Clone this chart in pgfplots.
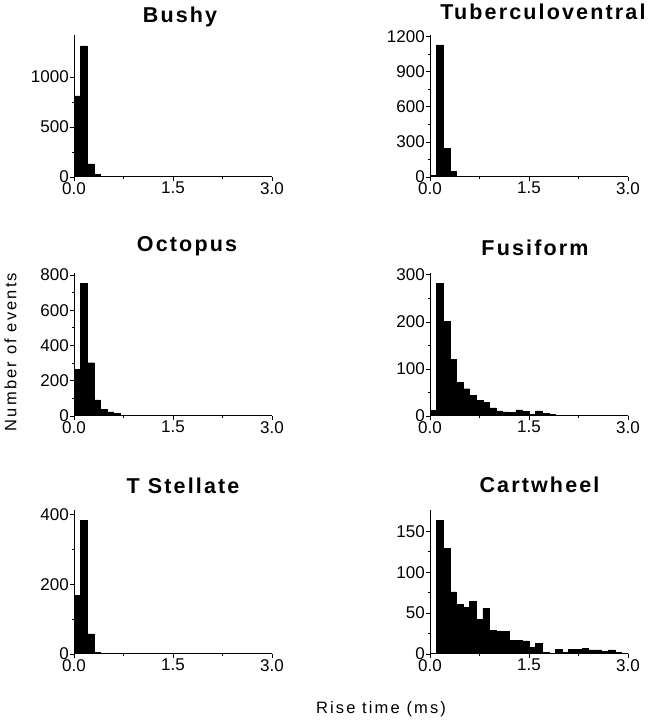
\documentclass[border=0pt]{standalone}
\usepackage{fontspec}
\setmainfont{Liberation Sans}
\newfontfamily\spacedfont{Liberation Sans}[LetterSpace=13]
\newfontfamily\titlefont{Liberation Sans}[LetterSpace=10]
\usepackage{pgfplots}
\usepackage{pgfplotstable}
\pgfplotsset{compat=1.18}

\pgfplotstableread{
x     bushy tv   oct fus ts  cw
0.0   810  15   264 12  169 0
0.1   1310 1130 751 282 385 163
0.2   130  248  302 201 58  129
0.3   25   50   92  120 5   76
0.4   6    8    38  72  2   61
0.5   3    3    23  58  1   57
0.6   2    2    15  44  1   64
0.7   1    1    5   33  1   42
0.8   1    1    3   29  0   56
0.9   1    1    4   17  0   29
1.0   1    0    3   11  0   28
1.1   0    0    2   9   0   28
1.2   0    0    2   8   0   17
1.3   0    0    1   13  0   17
1.4   0    0    1   10  0   16
1.5   0    0    1   3   0   8
1.6   0    0    1   11  0   13
1.7   0    0    1   5   0   2
1.8   0    0    1   3   0   1
1.9   0    0    0   1   0   6
2.0   0    0    0   2   0   2
2.1   0    0    0   1   0   6
2.2   0    0    0   0   0   6
2.3   0    0    0   1   0   7
2.4   0    0    0   2   0   5
2.5   0    0    0   1   0   5
2.6   0    0    0   0   0   3
2.7   0    0    0   1   0   5
2.8   0    0    0   2   0   2
2.9   0    0    0   1   0   1
3.0   0    0    0   0   0   0
}\hist

\pgfplotsset{
 panel/.style={
  scale only axis, width=198pt, height=143pt,
  anchor=south west,
  axis x line=bottom, axis y line=left,
  axis line style={-, line width=1pt},
  xmin=0, xmax=3.0, ymin=0,
  xtick={0,1.5,3.0}, minor xtick={0.75,2.25},
  minor y tick num=1,
  tick align=outside,
  major tick length=4pt, minor tick length=2.5pt,
  every tick/.style={line width=0.8pt, black},
  tick label style={font=\fontsize{17}{19}\selectfont},
  /pgf/number format/assume math mode=true,
  xticklabel style={inner sep=1pt, /pgf/number format/fixed, /pgf/number format/fixed zerofill, /pgf/number format/precision=1},
  yticklabel style={inner sep=1pt, /pgf/number format/fixed, /pgf/number format/precision=0, /pgf/number format/1000 sep={}},
 },
 hbar/.style={ybar interval, fill=black, draw=black, line width=0.3pt},
}
\newcommand\ttl[1]{{\titlefont\bfseries\fontsize{21.5}{25}\selectfont #1}}

\begin{document}
\begin{tikzpicture}
\path[use as bounding box] (0,0) rectangle (652pt,720pt);

\begin{axis}[panel, at={(74pt,543pt)}, height=142pt, ymax=1420, ytick={0,500,1000}]
\addplot[hbar] table[x=x, y=bushy] {\hist};
\end{axis}
\begin{axis}[panel, at={(430pt,543pt)}, height=142pt, ymax=1215, ytick={0,300,600,900,1200}]
\addplot[hbar] table[x=x, y=tv] {\hist};
\end{axis}

\begin{axis}[panel, at={(74pt,304pt)}, ymax=811, ytick={0,200,400,600,800}]
\addplot[hbar] table[x=x, y=oct] {\hist};
\end{axis}
\begin{axis}[panel, at={(430pt,304pt)}, ymax=304, ytick={0,100,200,300}]
\addplot[hbar] table[x=x, y=fus] {\hist};
\end{axis}

\begin{axis}[panel, at={(74pt,66pt)}, height=144pt, ymax=414, ytick={0,200,400}]
\addplot[hbar] table[x=x, y=ts] {\hist};
\end{axis}
\begin{axis}[panel, at={(430pt,66pt)}, height=144pt, ymax=176, ytick={0,50,100,150}]
\addplot[hbar] table[x=x, y=cw] {\hist};
\end{axis}

\node[anchor=base] at (180pt,697pt) {\ttl{Bushy}};
\node[anchor=base] at (543pt,700pt) {\ttl{Tuberculoventral}};
\node[anchor=base] at (187pt,468pt) {\ttl{Octopus}};
\node[anchor=base] at (535pt,464pt) {\ttl{Fusiform}};
\node[anchor=base] at (183pt,226pt) {\ttl{T Stellate}};
\node[anchor=base] at (539.5pt,227pt) {\ttl{Cartwheel}};

\node[anchor=base, rotate=90, inner sep=0pt] at (16.5pt,368pt) {\spacedfont\fontsize{16.5}{18}\selectfont Number of events};
\node[anchor=base, inner sep=0pt] at (381pt,6pt) {\spacedfont\fontsize{16.5}{18}\selectfont Rise time (ms)};
\end{tikzpicture}
\end{document}
